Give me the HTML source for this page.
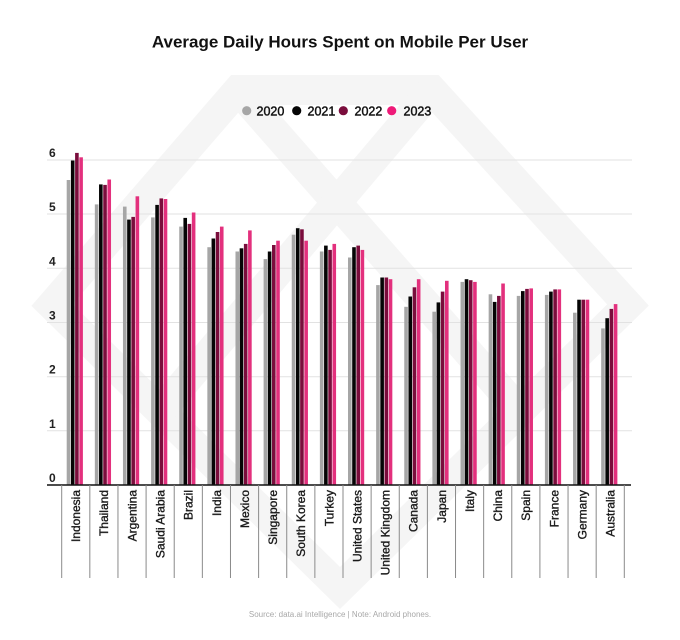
<!DOCTYPE html>
<html><head><meta charset="utf-8"><style>
html,body{margin:0;padding:0;background:#fff;}
svg{display:block;}
text{font-family:"Liberation Sans",sans-serif;}
</style></head><body>
<svg width="680" height="640" viewBox="0 0 680 640" xmlns="http://www.w3.org/2000/svg">
<rect width="680" height="640" fill="#fff"/>
<!-- watermark -->
<g fill="none" stroke="#f5f5f5" stroke-width="30" stroke-linejoin="miter">
<polygon points="238,90 432,90 628,305 340,588 52,305"/>
<polyline points="238,90 518,409"/>
<polyline points="432,90 162,409"/>
</g>
<!-- title -->
<text x="340" y="47.5" text-anchor="middle" font-size="17" font-weight="bold" fill="#111">Average Daily Hours Spent on Mobile Per User</text>
<!-- legend -->
<g font-size="12.5" fill="#111" stroke="#111" stroke-width="0.45">
<circle cx="246.7" cy="110.7" r="4.6" fill="#a6a6a6" stroke="none"/><text x="256.5" y="115.3">2020</text>
<circle cx="296.7" cy="110.7" r="4.6" fill="#050505" stroke="none"/><text x="307.5" y="115.3">2021</text>
<circle cx="343.3" cy="110.7" r="4.6" fill="#7a0d3c" stroke="none"/><text x="354.5" y="115.3">2022</text>
<circle cx="391.7" cy="110.7" r="4.6" fill="#ee1a78" stroke="none"/><text x="403.5" y="115.3">2023</text>
</g>
<!-- gridlines -->
<g stroke="#e2e2e2" stroke-width="1">
<line x1="47" y1="160" x2="632" y2="160"/>
<line x1="47" y1="214" x2="632" y2="214"/>
<line x1="47" y1="268.3" x2="632" y2="268.3"/>
<line x1="47" y1="322.5" x2="632" y2="322.5"/>
<line x1="47" y1="376.7" x2="632" y2="376.7"/>
<line x1="47" y1="430.8" x2="632" y2="430.8"/>
</g>
<!-- y tick labels -->
<g font-size="12" font-weight="bold" fill="#222">
<text x="49" y="157">6</text>
<text x="49" y="211">5</text>
<text x="49" y="265.3">4</text>
<text x="49" y="319.5">3</text>
<text x="49" y="373.7">2</text>
<text x="49" y="427.8">1</text>
<text x="49" y="482">0</text>
</g>
<!-- bars -->
<g transform="translate(0,485) scale(1,-1)">
<g transform="translate(61.7,0)"><rect x="5" width="3.6" height="305.0" fill="#a6a6a6"/><rect x="9.2" width="3.6" height="324.5" fill="#050505"/><rect x="13.4" width="3.6" height="332.1" fill="#7a0d3c"/><rect x="17.6" width="3.6" height="327.7" fill="#e3307d"/></g>
<g transform="translate(89.83,0)"><rect x="5" width="3.6" height="280.6" fill="#a6a6a6"/><rect x="9.2" width="3.6" height="300.6" fill="#050505"/><rect x="13.4" width="3.6" height="300.1" fill="#7a0d3c"/><rect x="17.6" width="3.6" height="305.5" fill="#e3307d"/></g>
<g transform="translate(117.96,0)"><rect x="5" width="3.6" height="278.4" fill="#a6a6a6"/><rect x="9.2" width="3.6" height="265.4" fill="#050505"/><rect x="13.4" width="3.6" height="268.1" fill="#7a0d3c"/><rect x="17.6" width="3.6" height="288.7" fill="#e3307d"/></g>
<g transform="translate(146.09,0)"><rect x="5" width="3.6" height="267.6" fill="#a6a6a6"/><rect x="9.2" width="3.6" height="280.1" fill="#050505"/><rect x="13.4" width="3.6" height="286.6" fill="#7a0d3c"/><rect x="17.6" width="3.6" height="286.0" fill="#e3307d"/></g>
<g transform="translate(174.22,0)"><rect x="5" width="3.6" height="258.4" fill="#a6a6a6"/><rect x="9.2" width="3.6" height="267.1" fill="#050505"/><rect x="13.4" width="3.6" height="261.1" fill="#7a0d3c"/><rect x="17.6" width="3.6" height="272.5" fill="#e3307d"/></g>
<g transform="translate(202.35,0)"><rect x="5" width="3.6" height="237.8" fill="#a6a6a6"/><rect x="9.2" width="3.6" height="246.5" fill="#050505"/><rect x="13.4" width="3.6" height="253.0" fill="#7a0d3c"/><rect x="17.6" width="3.6" height="258.4" fill="#e3307d"/></g>
<g transform="translate(230.48,0)"><rect x="5" width="3.6" height="233.5" fill="#a6a6a6"/><rect x="9.2" width="3.6" height="236.7" fill="#050505"/><rect x="13.4" width="3.6" height="241.1" fill="#7a0d3c"/><rect x="17.6" width="3.6" height="254.6" fill="#e3307d"/></g>
<g transform="translate(258.61,0)"><rect x="5" width="3.6" height="225.9" fill="#a6a6a6"/><rect x="9.2" width="3.6" height="233.5" fill="#050505"/><rect x="13.4" width="3.6" height="240.0" fill="#7a0d3c"/><rect x="17.6" width="3.6" height="244.3" fill="#e3307d"/></g>
<g transform="translate(286.74,0)"><rect x="5" width="3.6" height="250.3" fill="#a6a6a6"/><rect x="9.2" width="3.6" height="256.8" fill="#050505"/><rect x="13.4" width="3.6" height="255.7" fill="#7a0d3c"/><rect x="17.6" width="3.6" height="244.3" fill="#e3307d"/></g>
<g transform="translate(314.87,0)"><rect x="5" width="3.6" height="233.5" fill="#a6a6a6"/><rect x="9.2" width="3.6" height="239.4" fill="#050505"/><rect x="13.4" width="3.6" height="235.1" fill="#7a0d3c"/><rect x="17.6" width="3.6" height="241.1" fill="#e3307d"/></g>
<g transform="translate(343.0,0)"><rect x="5" width="3.6" height="227.5" fill="#a6a6a6"/><rect x="9.2" width="3.6" height="237.8" fill="#050505"/><rect x="13.4" width="3.6" height="239.4" fill="#7a0d3c"/><rect x="17.6" width="3.6" height="235.1" fill="#e3307d"/></g>
<g transform="translate(371.13,0)"><rect x="5" width="3.6" height="199.9" fill="#a6a6a6"/><rect x="9.2" width="3.6" height="207.5" fill="#050505"/><rect x="13.4" width="3.6" height="207.5" fill="#7a0d3c"/><rect x="17.6" width="3.6" height="205.8" fill="#e3307d"/></g>
<g transform="translate(399.26,0)"><rect x="5" width="3.6" height="178.2" fill="#a6a6a6"/><rect x="9.2" width="3.6" height="188.5" fill="#050505"/><rect x="13.4" width="3.6" height="197.7" fill="#7a0d3c"/><rect x="17.6" width="3.6" height="205.8" fill="#e3307d"/></g>
<g transform="translate(427.39,0)"><rect x="5" width="3.6" height="173.3" fill="#a6a6a6"/><rect x="9.2" width="3.6" height="182.6" fill="#050505"/><rect x="13.4" width="3.6" height="193.4" fill="#7a0d3c"/><rect x="17.6" width="3.6" height="204.2" fill="#e3307d"/></g>
<g transform="translate(455.52,0)"><rect x="5" width="3.6" height="203.1" fill="#a6a6a6"/><rect x="9.2" width="3.6" height="205.8" fill="#050505"/><rect x="13.4" width="3.6" height="204.8" fill="#7a0d3c"/><rect x="17.6" width="3.6" height="203.1" fill="#e3307d"/></g>
<g transform="translate(483.65,0)"><rect x="5" width="3.6" height="190.7" fill="#a6a6a6"/><rect x="9.2" width="3.6" height="183.1" fill="#050505"/><rect x="13.4" width="3.6" height="189.1" fill="#7a0d3c"/><rect x="17.6" width="3.6" height="201.5" fill="#e3307d"/></g>
<g transform="translate(511.78,0)"><rect x="5" width="3.6" height="189.1" fill="#a6a6a6"/><rect x="9.2" width="3.6" height="193.9" fill="#050505"/><rect x="13.4" width="3.6" height="196.1" fill="#7a0d3c"/><rect x="17.6" width="3.6" height="196.6" fill="#e3307d"/></g>
<g transform="translate(539.91,0)"><rect x="5" width="3.6" height="190.1" fill="#a6a6a6"/><rect x="9.2" width="3.6" height="193.4" fill="#050505"/><rect x="13.4" width="3.6" height="195.6" fill="#7a0d3c"/><rect x="17.6" width="3.6" height="195.6" fill="#e3307d"/></g>
<g transform="translate(568.04,0)"><rect x="5" width="3.6" height="172.3" fill="#a6a6a6"/><rect x="9.2" width="3.6" height="185.3" fill="#050505"/><rect x="13.4" width="3.6" height="185.3" fill="#7a0d3c"/><rect x="17.6" width="3.6" height="185.3" fill="#e3307d"/></g>
<g transform="translate(596.17,0)"><rect x="5" width="3.6" height="156.6" fill="#a6a6a6"/><rect x="9.2" width="3.6" height="166.8" fill="#050505"/><rect x="13.4" width="3.6" height="176.1" fill="#7a0d3c"/><rect x="17.6" width="3.6" height="180.9" fill="#e3307d"/></g>
</g>
<!-- axis -->
<line x1="47" y1="485" x2="631" y2="485" stroke="#111" stroke-width="1.5"/>
<!-- separators -->
<g stroke="#8a8a8a" stroke-width="1">
<line x1="61.7" y1="485" x2="61.7" y2="578"/>
<line x1="89.83" y1="485" x2="89.83" y2="578"/>
<line x1="117.96" y1="485" x2="117.96" y2="578"/>
<line x1="146.09" y1="485" x2="146.09" y2="578"/>
<line x1="174.22" y1="485" x2="174.22" y2="578"/>
<line x1="202.35" y1="485" x2="202.35" y2="578"/>
<line x1="230.48" y1="485" x2="230.48" y2="578"/>
<line x1="258.61" y1="485" x2="258.61" y2="578"/>
<line x1="286.74" y1="485" x2="286.74" y2="578"/>
<line x1="314.87" y1="485" x2="314.87" y2="578"/>
<line x1="343.0" y1="485" x2="343.0" y2="578"/>
<line x1="371.13" y1="485" x2="371.13" y2="578"/>
<line x1="399.26" y1="485" x2="399.26" y2="578"/>
<line x1="427.39" y1="485" x2="427.39" y2="578"/>
<line x1="455.52" y1="485" x2="455.52" y2="578"/>
<line x1="483.65" y1="485" x2="483.65" y2="578"/>
<line x1="511.78" y1="485" x2="511.78" y2="578"/>
<line x1="539.91" y1="485" x2="539.91" y2="578"/>
<line x1="568.04" y1="485" x2="568.04" y2="578"/>
<line x1="596.17" y1="485" x2="596.17" y2="578"/>
<line x1="624.3" y1="485" x2="624.3" y2="578"/>
</g>
<!-- x labels -->
<g font-size="12" fill="#1a1a1a" stroke="#1a1a1a" stroke-width="0.35" text-anchor="end">
<text transform="translate(80.1,490) rotate(-90)">Indonesia</text>
<text transform="translate(108.2,490) rotate(-90)">Thailand</text>
<text transform="translate(136.4,490) rotate(-90)">Argentina</text>
<text transform="translate(164.5,490) rotate(-90)">Saudi Arabia</text>
<text transform="translate(192.6,490) rotate(-90)">Brazil</text>
<text transform="translate(220.8,490) rotate(-90)">India</text>
<text transform="translate(248.9,490) rotate(-90)">Mexico</text>
<text transform="translate(277.0,490) rotate(-90)">Singapore</text>
<text transform="translate(305.1,490) rotate(-90)">South Korea</text>
<text transform="translate(333.3,490) rotate(-90)">Turkey</text>
<text transform="translate(361.4,490) rotate(-90)">United States</text>
<text transform="translate(389.5,490) rotate(-90)">United Kingdom</text>
<text transform="translate(417.7,490) rotate(-90)">Canada</text>
<text transform="translate(445.8,490) rotate(-90)">Japan</text>
<text transform="translate(473.9,490) rotate(-90)">Italy</text>
<text transform="translate(502.0,490) rotate(-90)">China</text>
<text transform="translate(530.2,490) rotate(-90)">Spain</text>
<text transform="translate(558.3,490) rotate(-90)">France</text>
<text transform="translate(586.4,490) rotate(-90)">Germany</text>
<text transform="translate(614.6,490) rotate(-90)">Australia</text>
</g>
<!-- source -->
<text x="340" y="617" text-anchor="middle" font-size="8" fill="#a8a8a8">Source: data.ai Intelligence | Note: Android phones.</text>
</svg>
</body></html>
